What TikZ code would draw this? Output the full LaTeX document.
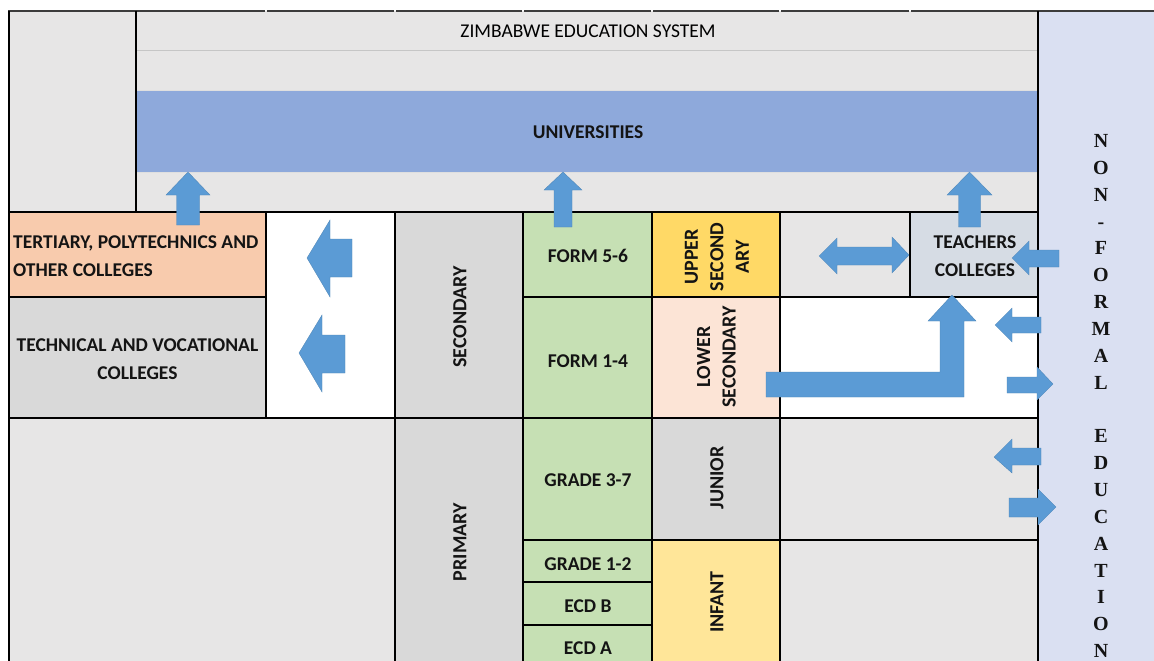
\documentclass[tikz,border=0pt]{standalone}
\usepackage{fontspec}
\setmainfont{Carlito}
\newfontfamily\lettersfont{Liberation Serif}
\definecolor{lgray}{HTML}{E7E6E6}
\definecolor{mgray}{HTML}{D9D9D9}
\definecolor{unicol}{HTML}{8EA9DB}
\definecolor{tertcol}{HTML}{F8CBAD}
\definecolor{formcol}{HTML}{C6E0B4}
\definecolor{uppercol}{HTML}{FFD966}
\definecolor{lowercol}{HTML}{FCE4D6}
\definecolor{infantcol}{HTML}{FFE699}
\definecolor{teachcol}{HTML}{D6DCE4}
\definecolor{nfcol}{HTML}{DAE0F2}
\definecolor{arrowcol}{HTML}{5B9BD5}
\definecolor{toprule}{HTML}{3C3C3C}
\begin{document}
\begin{tikzpicture}[x=1pt,y=-1pt,
  grid/.style={draw=black, line width=2.7pt},
  lbl/.style={inner sep=0pt, text=black!92, font=\bfseries\fontsize{19.5}{28}\selectfont, align=center},
  vlbl/.style={lbl, rotate=90, font=\bfseries\fontsize{20}{25.5}\selectfont},
  blockarrow/.style={fill=arrowcol, draw=arrowcol!85!black, line width=0.3pt, line join=miter}]
\useasboundingbox (0,0) rectangle (1154,661);
\fill[white] (0,0) rectangle (1154,661);

% ---- background fills ----
\fill[lgray] (9,11) rectangle (1038,212);
\fill[unicol] (137,90) rectangle (1038,172);
\draw[gray!45, line width=0.8pt] (137,50) -- (1038,50);
\draw[gray!25, line width=0.6pt] (137,90) -- (1038,90) (137,172) -- (1038,172);
\fill[nfcol] (1038,11) rectangle (1154,661);

\fill[tertcol]   (9,212)   rectangle (266,297);
\fill[mgray]     (9,297)   rectangle (266,418);
\fill[white]     (266,212) rectangle (395,418);
\fill[mgray]     (395,212) rectangle (523,418);
\fill[formcol]   (523,212) rectangle (652,418);
\fill[uppercol]  (652,212) rectangle (780,297);
\fill[lowercol]  (652,297) rectangle (780,418);
\fill[lgray]     (780,212) rectangle (910,297);
\fill[teachcol]  (910,212) rectangle (1038,297);
\fill[white]     (780,297) rectangle (1038,418);
\fill[lgray]     (9,418)   rectangle (395,661);
\fill[mgray]     (395,418) rectangle (523,661);
\fill[formcol]   (523,418) rectangle (652,661);
\fill[mgray]     (652,418) rectangle (780,540);
\fill[infantcol] (652,540) rectangle (780,661);
\fill[lgray]     (780,418) rectangle (1038,661);

% ---- top rule, broken at the column joints ----
\foreach \a/\b in {8/264.5, 266.5/394, 396/522, 524/651, 653/779, 781/909, 911/1154}
  \draw[toprule, line width=2pt] (\a,11) -- (\b,11);

% ---- grid ----
\draw[grid] (9,212) -- (1038,212);
\draw[grid] (9,297) -- (266,297) (523,297) -- (1038,297);
\draw[grid] (9,418) -- (1038,418);
\draw[grid] (523,540) -- (1038,540);
\draw[grid] (523,582) -- (652,582) (523,625) -- (652,625);
\draw[grid] (9,11) -- (9,661);
\draw[grid] (136,11) -- (136,212);
\draw[grid] (266,212) -- (266,418);
\draw[grid] (395,212) -- (395,661);
\draw[grid] (523,212) -- (523,661);
\draw[grid] (652,212) -- (652,661);
\draw[grid] (780,212) -- (780,661);
\draw[grid] (910,212) -- (910,297);
\draw[grid] (1038,11) -- (1038,661);

% ---- labels ----
\node[lbl, text=black, font=\fontsize{19.5}{22}\selectfont] (title) at (588,31) {ZIMBABWE EDUCATION SYSTEM};
\node[lbl] (univ) at (588,132) {UNIVERSITIES};
\node[lbl, anchor=west, align=left] (tertiary) at (13,256) {TERTIARY, POLYTECHNICS AND\\OTHER COLLEGES};
\node[lbl] (technical) at (137.5,359) {TECHNICAL AND VOCATIONAL\\COLLEGES};
\node[vlbl] (secondary) at (460,317) {SECONDARY};
\node[vlbl] (primary) at (460,542) {PRIMARY};
\node[lbl] (form56) at (588,256) {FORM 5-6};
\node[lbl] (form14) at (588,361) {FORM 1-4};
\node[lbl] (grade37) at (588,480) {GRADE 3-7};
\node[lbl] (grade12) at (588,564) {GRADE 1-2};
\node[lbl] (ecdb) at (588,606) {ECD B};
\node[lbl] (ecda) at (588,648) {ECD A};
\node[vlbl] (upper) at (717,257) {UPPER\\SECOND\\ARY};
\node[vlbl] (lower) at (716.5,357) {LOWER\\SECONDARY};
\node[vlbl] (junior) at (717,478) {JUNIOR};
\node[vlbl] (infant) at (717,602) {INFANT};
\node[lbl] (teachers) at (975,256) {TEACHERS\\COLLEGES};
\node[lbl, font=\lettersfont\bfseries\fontsize{20}{26.85}\selectfont] (nonformal) at (1101,396)
  {N\\O\\N\\-\\F\\O\\R\\M\\A\\L\\\mbox{}\\E\\D\\U\\C\\A\\T\\I\\O\\N};

% ---- block arrows ----
% up to the universities
\draw[blockarrow] (176.5,225) -- (176.5,195) -- (166,195) -- (188,172) -- (210,195) -- (199.5,195) -- (199.5,225) -- cycle;
\draw[blockarrow] (554,227) -- (554,190) -- (544,190) -- (563,172) -- (582,190) -- (572,190) -- (572,227) -- cycle;
\draw[blockarrow] (958.5,227) -- (958.5,195) -- (947,195) -- (969.5,172) -- (992,195) -- (980.5,195) -- (980.5,227) -- cycle;
% towards the colleges on the left
\draw[blockarrow] (352,239) -- (330,239) -- (330,220) -- (307,258) -- (330,297) -- (330,277) -- (352,277) -- cycle;
\draw[blockarrow] (345,335) -- (322,335) -- (322,315) -- (299,353) -- (322,392) -- (322,373) -- (345,373) -- cycle;
% two-way arrow beside the teachers colleges
\draw[blockarrow] (819,256) -- (837,238) -- (837,247) -- (892,247) -- (892,237) -- (909,255) -- (892,273) -- (892,265) -- (837,265) -- (837,274) -- cycle;
% non-formal education into teachers colleges
\draw[blockarrow] (1059,250) -- (1029,250) -- (1029,241) -- (1012,258) -- (1029,275) -- (1029,267) -- (1059,267) -- cycle;
% lower secondary up to teachers colleges
\draw[blockarrow] (766,372) -- (940,372) -- (940,321) -- (928,321) -- (952,295) -- (976,321) -- (964,321) -- (964,397) -- (766,397) -- cycle;
% exchanges with non-formal education
\draw[blockarrow] (1041,317) -- (1012,317) -- (1012,308) -- (995,325) -- (1012,342) -- (1012,333) -- (1041,333) -- cycle;
\draw[blockarrow] (1007,377) -- (1037,377) -- (1037,367) -- (1053,384) -- (1037,400) -- (1037,393) -- (1007,393) -- cycle;
\draw[blockarrow] (1041,448) -- (1012,448) -- (1012,439) -- (994,457) -- (1012,473) -- (1012,465) -- (1041,465) -- cycle;
\draw[blockarrow] (1009,498) -- (1038,498) -- (1038,489) -- (1056,507) -- (1038,525) -- (1038,517) -- (1009,517) -- cycle;
\end{tikzpicture}
\end{document}
